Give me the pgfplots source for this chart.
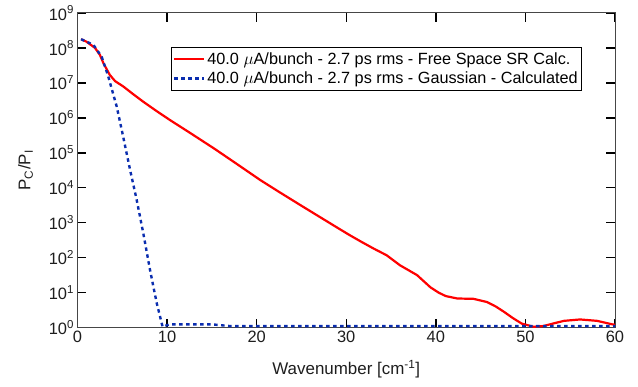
\documentclass[border=0pt]{standalone}
\usepackage{pgfplots}
\pgfplotsset{compat=1.18}
\usepackage{fontspec}
\setmainfont{Liberation Sans}
\definecolor{axgray}{RGB}{70,70,70}
\definecolor{txtgray}{RGB}{30,30,30}
\definecolor{mblue}{RGB}{10,45,175}
\begin{document}
\begin{tikzpicture}
\useasboundingbox (-77.5bp,-59.5bp) rectangle (560.5bp,327.5bp);
\begin{axis}[
  at={(0,0)}, anchor=south west,
  scale only axis, width=537.5bp, height=314.5bp,
  ymode=log, xmin=0, xmax=60, ymin=1, ymax=1e9,
  xtick={0,10,...,60},
  ytick={1,10,100,1000,1e4,1e5,1e6,1e7,1e8,1e9},
  yticklabels={10\textsuperscript{0},10\textsuperscript{1},10\textsuperscript{2},10\textsuperscript{3},10\textsuperscript{4},10\textsuperscript{5},10\textsuperscript{6},10\textsuperscript{7},10\textsuperscript{8},10\textsuperscript{9}},
  yminorticks=false, xminorticks=false,
  tick align=inside, major tick length=9bp,
  axis line style={axgray, line width=1bp},
  every tick/.style={black, line width=1.5bp},
  /pgf/number format/assume math mode=true,
  tick label style={font=\fontsize{16.5}{19}\selectfont, text=txtgray},
  label style={font=\fontsize{17}{20}\selectfont, text=txtgray},
  xlabel={Wavenumber [cm\textsuperscript{-1}]},
  ylabel={P\textsubscript{C}/P\textsubscript{I}},
  xlabel style={yshift=-11bp},
  ylabel style={yshift=9bp},
  legend style={at={(0.1734,0.893)}, anchor=north west, draw=black, line width=0.6bp,
    font=\fontsize{16.3}{19}\selectfont, inner xsep=2bp, inner ysep=3.5bp, row sep=2bp},
  legend cell align=left,
  legend image code/.code={\draw[#1] (0bp,0bp) -- (30bp,0bp);},
]
\addplot[red, line width=2.2bp] coordinates {
(0.4,1.78e8) (1.0,1.51e8) (1.96,1.0e8) (2.5,6.31e7) (2.9,3.63e7) (3.6,1.70e7)
(4.2,1.12e7) (5.1,7.94e6) (6.2,4.79e6) (7.35,2.88e6) (8.8,1.58e6) (10.3,8.71e5)
(12.5,3.80e5) (15.2,1.35e5) (17.5,5.37e4) (20.4,1.66e4) (22.5,7.59e3) (24.9,3.16e3)
(27,1.48e3) (29.3,646) (30.4,437) (31.7,282) (33.05,182) (34.5,117) (36.0,60.3)
(37.9,31.6) (39.4,14.1) (40.3,10) (41.1,7.94) (42.4,6.76) (44.2,6.61) (45.7,5.37)
(46.7,3.98) (47.6,2.82) (48.6,1.86) (49.6,1.29) (50.9,1.05) (52.0,1.10) (53.2,1.32)
(54.3,1.55) (56.1,1.70) (58.0,1.55) (59.7,1.23) (60,1.20)
};
\addlegendentry{40.0 \(\mu\)A/bunch - 2.7 ps rms - Free Space SR Calc.}
\addplot[mblue, line width=2.4bp, dash pattern=on 3.5bp off 3.5bp] coordinates {
(0.4,1.78e8) (1.77,1.23e8) (2.7,5.62e7) (3.44,1.51e7) (4.38,2.09e6) (5.1,2.88e5)
(5.87,3.24e4) (6.61,4.47e3) (7.35,490) (8.1,43.7) (8.85,4.90) (9.5,1.05) (9.8,1.12)
(10.3,1.23) (15,1.23) (17,1.10) (60,1.10)
};
\addlegendentry{40.0 \(\mu\)A/bunch - 2.7 ps rms - Gaussian - Calculated}
\end{axis}
\end{tikzpicture}
\end{document}
